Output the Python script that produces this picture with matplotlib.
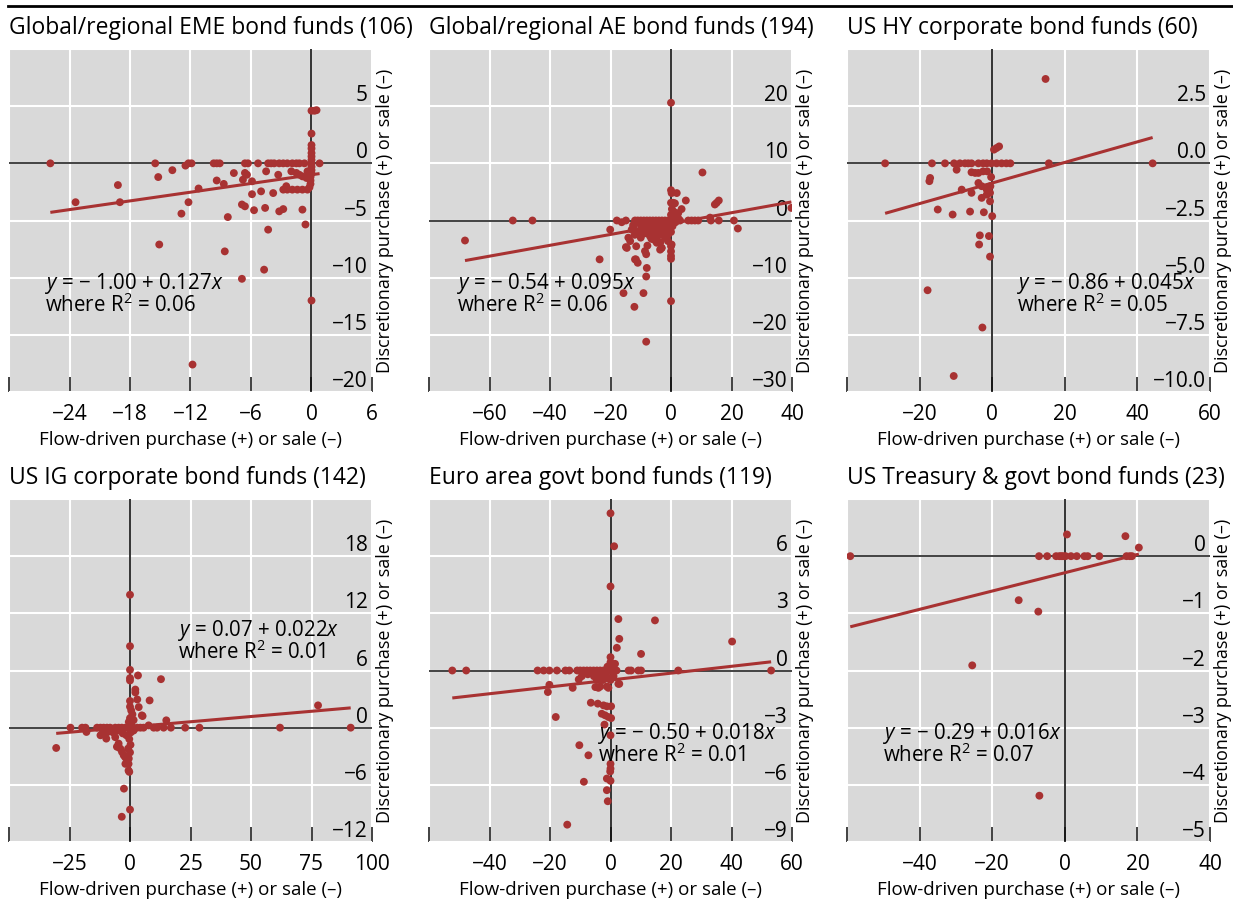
import matplotlib
matplotlib.use("Agg")
import matplotlib.pyplot as plt
from matplotlib.lines import Line2D
import numpy as np

plt.rcParams['font.family'] = ['Open Sans', 'DejaVu Sans']
plt.rcParams['mathtext.fontset'] = 'custom'
plt.rcParams['mathtext.rm'] = 'Open Sans'
plt.rcParams['mathtext.it'] = 'Open Sans:italic'
plt.rcParams['axes.unicode_minus'] = True

# ---------------- data ----------------
titles = ["Global/regional EME bond funds (106)", "Global/regional AE bond funds (194)",
          "US HY corporate bond funds (60)", "US IG corporate bond funds (142)",
          "Euro area govt bond funds (119)", "US Treasury & govt bond funds (23)"]

x_eme = [-25.9, -23.4, -19.2, -19.0, -15.5, -15.2, -15.1, -13.8, -12.9, -12.5, -12.2, -12.2, -11.9, -11.8, -11.2,
         -9.7, -9.4, -9.1, -9.4, -8.7, -8.6, -8.3, -7.7, -6.9, -6.9, -6.6, -6.6, -6.4, -6.8, -5.9, -6.6, -6.3,
         -5.9, -5.0, -5.7, -5.3, -4.7, -4.6, -4.5, -4.3, -4.3, -4.0, -3.7, -3.8, -3.3, -3.2, -3.2, -2.8, -2.8,
         -2.4, -2.8, -2.4, -2.5, -1.9, -1.4, -0.9, -0.4, -1.9, -1.5, -1.2, -0.7, -2.0, -1.5, -1.2, -0.9, -0.5,
         -0.4, -0.9, -0.6, 0.0, 0.0, 0.3, 0.5, 0.0, 0.0, 0.0, 0.0, 0.0, 0.0, 0.0, 0.0, 0.0, 0.0, -0.1, -0.1,
         -0.1, -0.2, 0.8]
y_eme = [0.0, -3.4, -1.9, -3.4, 0.0, -1.2, -7.1, -0.6, -4.4, -0.2, -3.4, 0.0, 0.0, -17.6, -2.2,
         0.0, 0.0, 0.0, -1.5, -1.8, -7.7, -4.7, -0.85, -3.6, -10.1, -3.76, -0.84, -1.0, -1.43, -1.57, 0.0, 0.0,
         -2.7, -2.45, -4.1, 0.0, -9.3, -3.9, -0.7, -5.8, 0.0, 0.0, 0.0, -2.6, -1.0, 0.0, -4.2, -4.0, 0.0,
         0.0, -2.3, -2.3, -2.0, -2.3, -2.3, -2.3, -2.3, 0.0, 0.0, 0.0, 0.0, -0.7, -0.84, -1.0, -1.14, -1.28,
         -0.7, -4.05, -5.35, -12.0, 4.6, 4.6, 4.65, 2.6, 1.6, 1.3, 0.9, 0.6, 0.3, 0.0, -0.3, -0.6, -0.9, -1.2,
         -1.5, -1.8, -2.1, 0.0]

x_ae = [-68.1, -52.3, -45.8, -23.6, -20.1, -17.9, -16.3, -14.9, -15.7, -14.9, -14.1, -13.5, -12.4, -11.9,
        -11.3, -12.1, -11.5, -11.6, -11.0, -9.1, -8.2, -8.2, -8.0, -8.2, -7.8, 0.0, 0.0, 0.0, 0.2, 1.9, 0.0,
        0.7, 1.3, 3.5, 2.4, 4.9, 0.0, 0.0, 0.0, 0.0, 10.4, 5.7, 6.8, 7.9, 9.0, 12.9, 13.2, 14.5, 15.1, 15.8,
        15.8, 20.8, 22.1, 39.8,
        -11.0, -10.0, -9.0, -8.0, -7.0, -6.0, -5.0, -4.0, -3.0, -2.0, -1.0, 0.0, 1.0, 2.0, 3.0,
        -10.0, -9.0, -8.0, -7.0, -6.0, -5.0, -4.0, -3.0, -2.0, -1.0, -0.5, -6.5, -4.5, -3.6, -3.1, -2.0,
        -1.0, 0.2, 0.0, 0.0, 0.5, 0.0, 0.3, 1.0, 2.0, -8.6, -11.9, -5.8, -4.7, -3.1, -14.6, -12.0, -10.0,
        -9.0, -7.5, -6.0, -2.5, -1.5, 0.8, 1.5, 2.5,
        -9.5, -8.5, -7.5, -6.5, -5.5, -4.5, -3.5, -2.5, -1.5, -0.5, -10.5, -12.5, -13.0, -5.0, -3.5, -1.0,
        0.5, 1.2, -7.0, -4.0]
y_ae = [-3.5, 0.0, 0.0, -6.8, -1.6, 0.0, -0.3, 0.0, -12.7, -4.65, -3.0, -3.6, -1.0, 0.0,
        -2.2, -15.1, -4.5, -6.8, -7.4, -12.7, -21.2, -9.8, -8.3, -5.9, -4.4, 20.6, -14.1, 5.3, 4.8, 4.8, 3.1,
        3.1, 3.0, 2.0, 1.3, 3.5, -4.5, -5.4, -6.2, -6.7, 8.4, 0.0, 0.0, 0.0, 0.0, 0.5, 0.0, 2.8, 3.1, 3.5,
        0.0, 0.0, -1.4, 2.2,
        0.0, 0.0, 0.0, 0.0, 0.0, 0.0, 0.0, 0.0, 0.0, 0.0, 0.0, 0.0, 0.0, 0.0, 0.0,
        -0.8, -1.5, -0.5, -2.0, -1.2, -2.8, -0.7, -1.8, -1.0, -2.5, -0.4, -3.2, -3.5, -5.1, -4.8, -3.0,
        -3.6, -4.2, -2.0, -1.0, 0.5, 1.0, 2.0, 1.5, 0.8, -5.35, -6.8, -3.3, -3.9, -4.8, -4.8, -2.5, -3.0,
        -2.3, -1.0, -0.3, -0.3, -1.5, -0.5, -0.3, 0.3,
        -0.4, -1.1, -1.6, -0.9, -2.1, -1.4, -2.4, -1.9, -0.6, -1.4, -1.8, -0.8, -1.6, -3.6, -3.8, -1.2,
        -1.0, 0.3, -2.7, -2.2]

x_hy = [-29.5, -16.6, -17.1, -17.3, -13.0, -10.5, -9.8, -8.9, -7.5, -6.6, -5.7, -3.8, -2.5, -1.5, -0.2, 1.2,
        2.6, 3.9, 5.0, -5.7, -4.7, -3.8, -2.5, -3.8, -2.9, -1.5, -1.1, -0.6, -1.5, -8.4, -5.7, -2.9, -0.6,
        -15.0, -10.9, -6.1, -2.3, 0.0, -3.4, -0.9, -3.6, -0.6, -17.8, -2.7, -10.6, 14.7, 0.5, 1.2, 1.9, 15.6,
        44.2, -1.4, -0.5, -0.3]
y_hy = [0.0, 0.0, -0.64, -0.78, 0.0, 0.0, -0.28, 0.0, 0.0, 0.0, 0.0, 0.0, 0.0, 0.0, 0.0, 0.0,
        0.0, 0.0, 0.0, -0.39, -0.42, -0.42, -0.35, -0.86, -1.0, -1.15, -1.22, -1.29, -1.37, -1.15, -1.29,
        -1.51, -1.66, -2.02, -2.24, -2.11, -2.14, -2.31, -3.15, -3.18, -3.55, -4.08, -5.55, -7.18, -9.3, 3.69,
        0.6, 0.67, 0.74, 0.0, 0.0, -0.35, -1.0, -0.6]

x_ig = [-30.5, -24.6, -19.8, -18.4, -18.0, -13.6, -12.2, -10.9, -9.5, -8.2, -6.1, -4.7, -3.4, -1.9, -1.0,
        -12.2, -9.8, -11.5, -9.5, -7.0, -5.0, -3.0, -6.1, -4.7, -4.0, -3.3, -2.0, -1.2, -0.6, -5.4, -5.1, -2.6,
        -1.9, -0.5, -0.3, -0.6, -2.5, 0.0, -3.4, 0.0, 0.0, 0.0, 0.0, 0.0, 3.3, 12.8, 2.2, 2.2, 8.1, 3.0, 3.6,
        4.9, 5.2, 0.0, 0.0, 0.5, 1.0, 0.0, 1.5, 0.5, -0.5, 0.3, -0.3, 0.2, -0.8, 0.0, 7.7, 9.8, 11.2, 13.9,
        15.0, 16.9, 22.8, 28.7, 62.0, 77.7, 91.2, 2.9, 4.3, 5.6, 0.0, 1.5, -1.5]
y_ig = [-2.13, 0.0, 0.0, 0.0, -0.45, 0.0, 0.0, 0.0, 0.0, 0.0, 0.0, 0.0, 0.0, 0.0, 0.0,
        -0.8, -1.15, -0.63, -0.5, -0.5, -0.3, -0.6, -1.0, -1.67, -2.2, -2.55, -3.1, -3.4, -3.8, -2.0, -2.0,
        -2.9, -3.8, -3.24, -4.64, -4.5, -6.4, -8.6, -9.35, 13.95, 8.55, 6.07, 5.2, 4.95, 5.48, 5.09, 4.0, 3.7,
        2.86, 2.96, 2.16, 1.29, 1.22, 2.8, 2.2, 1.8, 1.4, 1.0, 0.8, 0.4, 0.6, -0.5, -1.2, -1.8, -2.2, -2.6,
        0.24, 0.0, 0.0, 0.0, 0.77, 0.0, 0.0, 0.0, 0.0, 2.34, 0.0, 0.0, 0.0, 0.0, 0.0, -0.3, -0.8]

x_ea = [-52.3, -47.7, -24.1, -22.1, -20.2, -17.7, -14.9, -13.6, -20.2, -20.7, -18.1, -12.5, -11.0, -10.0,
        -8.9, -7.8, -6.7, -5.6, -4.5, -3.4, -2.3, -1.2, 0.0, 1.0, 2.0, -10.5, -9.5, -7.5, -5.5, -4.5, -3.5,
        -2.5, -1.5, -0.5, -4.0, -5.0, -3.4, -1.2, -0.7, 2.6, 2.9, -6.5, -4.2, -2.3, -1.2, 0.2, -2.9, -1.8,
        -0.7, 0.2, -2.0, 0.0, -10.3, -7.3, 0.0, 0.0, -0.1, -1.2, 0.0, -8.8, -1.2, -0.9, -14.3, 0.0, 1.2, 0.0,
        2.6, 14.7, 2.9, 2.1, 10.1, 40.2, 0.0, 0.0, 0.5, 1.5, 6.0, 6.8, 9.2, 10.1, 22.4, 53.1, -1.0, 0.0, 1.0]
y_ea = [0.0, 0.0, 0.0, 0.0, 0.0, 0.0, 0.0, 0.0, -0.75, -1.13, -2.44, -0.91, 0.0, 0.0,
        0.0, 0.0, 0.0, 0.0, 0.0, 0.0, 0.0, 0.0, 0.0, 0.0, 0.0, -0.47, -0.3, -0.2, -0.3, -0.5, -0.25,
        -0.5, -0.2, -0.4, -0.91, -0.87, -0.84, -0.84, -0.91, -0.7, -0.7, -1.69, -1.74, -1.83, -1.88, -1.88,
        -2.27, -2.35, -2.44, -2.5, -2.84, -3.4, -3.92, -4.45, -4.9, -5.15, -5.3, -5.67, -5.79, -5.84, -6.28,
        -6.86, -8.09, 8.25, 6.52, 4.41, 2.7, 2.63, 1.66, 1.19, 0.87, 1.52, 0.7, 0.43, 0.26, 0.35, 0.0, 0.0,
        0.0, 0.0, 0.0, 0.0, 0.2, -0.5, -0.3]

x_ust = [-59.1, -7.1, -4.85, -2.4, -1.5, -0.5, 0.2, 1.7, 3.3, 5.4, 6.3, 9.5, 17.0, 17.9, 18.5, 0.6, 16.7,
         20.4, -12.7, -7.3, -25.5, -7.0, -1.0]
y_ust = [0.0, 0.0, 0.0, 0.0, 0.0, 0.0, 0.0, 0.0, 0.0, 0.0, 0.0, 0.0, 0.0, 0.0, 0.0, 0.38, 0.35,
         0.15, -0.77, -0.97, -1.91, -4.19, 0.0]

intercepts = [-1.00, -0.54, -0.86, 0.07, -0.50, -0.29]
slopes = [0.127, 0.095, 0.045, 0.022, 0.018, 0.016]
r_squared = [0.06, 0.06, 0.05, 0.01, 0.01, 0.07]
intercept_text = ["− 1.00", "− 0.54", "− 0.86", "0.07", "− 0.50", "− 0.29"]
slope_text = ["0.127", "0.095", "0.045", "0.022", "0.018", "0.016"]

x_ticks = [[-30, -24, -18, -12, -6, 0, 6], [-80, -60, -40, -20, 0, 20, 40], [-40, -20, 0, 20, 40, 60],
           [-50, -25, 0, 25, 50, 75, 100], [-60, -40, -20, 0, 20, 40, 60], [-60, -40, -20, 0, 20, 40]]
x_tick_labels = [['', '−24', '−18', '−12', '−6', '0', '6'], ['', '−60', '−40', '−20', '0', '20', '40'],
                 ['', '−20', '0', '20', '40', '60'], ['', '−25', '0', '25', '50', '75', '100'],
                 ['', '−40', '−20', '0', '20', '40', '60'], ['', '−40', '−20', '0', '20', '40']]
y_ticks = [[-20, -15, -10, -5, 0, 5, 10], [-30, -20, -10, 0, 10, 20, 30], [-10, -7.5, -5, -2.5, 0, 2.5, 5],
           [-12, -6, 0, 6, 12, 18, 24], [-9, -6, -3, 0, 3, 6, 9], [-5, -4, -3, -2, -1, 0, 1]]
y_tick_labels = [['−20', '−15', '−10', '−5', '0', '5', ''], ['−30', '−20', '−10', '0', '10', '20', ''],
                 ['−10.0', '−7.5', '−5.0', '−2.5', '0.0', '2.5', ''], ['−12', '−6', '0', '6', '12', '18', ''],
                 ['−9', '−6', '−3', '0', '3', '6', ''], ['−5', '−4', '−3', '−2', '−1', '0', '']]

x_label = "Flow-driven purchase (+) or sale (–)"
y_label = "Discretionary purchase (+) or sale (–)"

xs = [x_eme, x_ae, x_hy, x_ig, x_ea, x_ust]
ys = [y_eme, y_ae, y_hy, y_ig, y_ea, y_ust]

# ---------------- layout ----------------
W, H = 1233, 899
fig = plt.figure(figsize=(W / 100, H / 100), dpi=100)
col_left = [9, 429, 847]
row_top = [49, 499]
ax_w, ax_h = 363, 343
ann_pos = [(0.100, 0.299, 0.232), (0.076, 0.299, 0.232), (0.467, 0.299, 0.232),
           (0.466, 0.600, 0.534), (0.466, 0.299, 0.232), (0.099, 0.299, 0.232)]

red = '#a83232'
bg = '#d9d9d9'
TICK_FS = 15
ANN_FS = 14.8
LAB_FS = 13.5
TITLE_FS = 16.5

for i in range(6):
    r, c = divmod(i, 3)
    ax = fig.add_axes([col_left[c] / W, 1 - (row_top[r] + ax_h) / H, ax_w / W, ax_h / H])
    ax.set_facecolor(bg)
    for s in ax.spines.values():
        s.set_visible(False)
    ax.set_xlim(x_ticks[i][0], x_ticks[i][-1])
    ax.set_ylim(y_ticks[i][0], y_ticks[i][-1])
    ax.set_xticks(x_ticks[i], x_tick_labels[i])
    ax.set_yticks(y_ticks[i], y_tick_labels[i])
    ax.grid(True, color='white', lw=1.5, zorder=0)
    ax.set_axisbelow(True)
    ax.tick_params(axis='x', direction='in', length=10.8, width=1.3, color='#333333', pad=9,
                   labelsize=TICK_FS)
    ax.yaxis.tick_right()
    ax.tick_params(axis='y', length=0, pad=-3, labelsize=TICK_FS)
    plt.setp(ax.get_yticklabels(), ha='right', va='bottom')
    ax.axhline(0, color='#222222', lw=1.2, zorder=1)
    ax.axvline(0, color='#111111', lw=1.2, zorder=1)

    x = np.array(xs[i]); y = np.array(ys[i])
    ax.scatter(x, y, s=32, color=red, edgecolors='none', zorder=3)
    xl = np.array([x.min(), x.max()])
    ax.plot(xl, intercepts[i] + slopes[i] * xl, color=red, lw=2.2, zorder=4, solid_capstyle='butt')

    ax_, y1, y2 = ann_pos[i]
    ax.text(ax_, y1, r"$\mathit{y}$ = " + intercept_text[i] + " + " + slope_text[i] + r"$\mathit{x}$",
            transform=ax.transAxes, fontsize=ANN_FS, va='baseline', ha='left', zorder=5)
    ax.text(ax_, y2, "where R$^{2}$ = " + f"{r_squared[i]:.2f}",
            transform=ax.transAxes, fontsize=ANN_FS, va='baseline', ha='left', zorder=5)

    ax.text(0, 1 + 21 / ax_h, titles[i], transform=ax.transAxes, fontsize=TITLE_FS, ha='left', va='center')
    ax.text(0.5, -48 / ax_h, x_label, transform=ax.transAxes, fontsize=LAB_FS, ha='center', va='center')
    ax.text(1 + 13 / ax_w, 0.5, y_label, transform=ax.transAxes, fontsize=13, ha='center', va='center',
            rotation=90)

fig.add_artist(Line2D([8 / W, 1], [1 - 6 / H, 1 - 6 / H], color='black', lw=2))

fig.savefig('out.png', dpi=100)
